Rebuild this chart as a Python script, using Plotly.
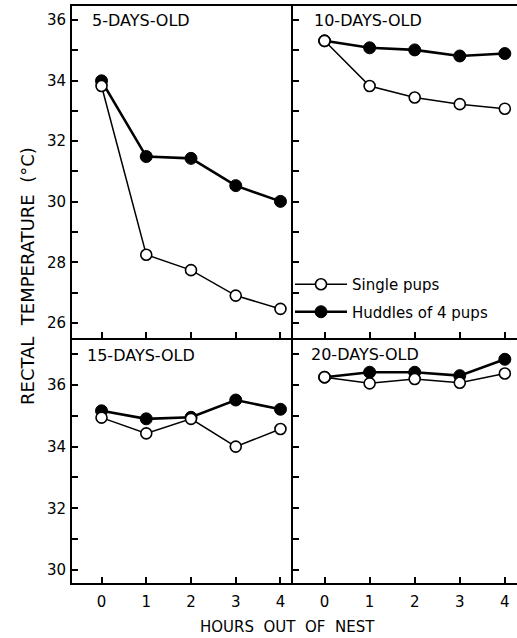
import plotly.graph_objects as go

hours = [0, 1, 2, 3, 4]
panel_titles = ["5-DAYS-OLD", "10-DAYS-OLD", "15-DAYS-OLD", "20-DAYS-OLD"]

single_5 = [33.82, 28.25, 27.74, 26.9, 26.46]
huddle_5 = [33.99, 31.49, 31.43, 30.53, 30.01]
single_10 = [35.31, 33.82, 33.44, 33.22, 33.07]
huddle_10 = [35.31, 35.08, 35.01, 34.81, 34.89]
single_15 = [34.94, 34.43, 34.9, 34.0, 34.57]
huddle_15 = [35.16, 34.9, 34.95, 35.51, 35.21]
single_20 = [36.25, 36.05, 36.19, 36.07, 36.37]
huddle_20 = [36.25, 36.41, 36.41, 36.3, 36.83]

singles = [single_5, single_10, single_15, single_20]
huddles = [huddle_5, huddle_10, huddle_15, huddle_20]

FONT = "DejaVu Sans"
W, H = 517, 638
ML, MR, MT, MB = 72, 0, 6, 55
pw = W - ML - MR
ph = H - MT - MB
xsplit = (293 - ML) / pw
ysplit = (583 - 338) / ph

fig = go.Figure()

for i in range(4):
    ax = "" if i == 0 else str(i + 1)
    fig.add_trace(go.Scatter(
        x=hours, y=huddles[i], mode="lines+markers",
        name="Huddles of 4 pups", legendgroup="h", legendrank=2,
        showlegend=(i == 0), cliponaxis=False,
        line=dict(color="black", width=2.6),
        marker=dict(symbol="circle", size=12, color="black",
                    line=dict(color="black", width=1)),
        xaxis="x" + ax, yaxis="y" + ax))
    fig.add_trace(go.Scatter(
        x=hours, y=singles[i], mode="lines+markers",
        name="Single pups", legendgroup="s", legendrank=1,
        showlegend=(i == 0), cliponaxis=False,
        line=dict(color="black", width=1.5),
        marker=dict(symbol="circle", size=11, color="white",
                    line=dict(color="black", width=1.6)),
        xaxis="x" + ax, yaxis="y" + ax))

tickfont = dict(family=FONT, size=15, color="black")

def xax(domain, anchor, labels, mirror, rng):
    return dict(domain=domain, anchor=anchor, range=rng,
                tickvals=hours, ticktext=[str(h) for h in hours],
                showticklabels=labels, ticks="inside", ticklen=6,
                tickwidth=1.5, tickcolor="black",
                showline=True, linecolor="black", linewidth=1.8,
                mirror=mirror, showgrid=False, zeroline=False,
                tickfont=tickfont, ticklabelstandoff=4)

def yax(domain, anchor, labels, mirror, rng, t0):
    return dict(domain=domain, anchor=anchor, range=rng,
                tick0=t0, dtick=2, showticklabels=labels,
                ticks="inside", ticklen=6, tickwidth=1.5, tickcolor="black",
                minor=dict(dtick=1, tick0=t0 + 1, ticks="inside", ticklen=6,
                           tickwidth=1.5, tickcolor="black", showgrid=False),
                showline=True, linecolor="black", linewidth=1.8,
                mirror=mirror, showgrid=False, zeroline=False,
                tickfont=tickfont, ticklabelstandoff=1)

top_rng = [25.5, 36.46]
bot_rng = [29.58, 37.52]

fig.update_layout(
    width=W, height=H,
    margin=dict(l=ML, r=MR, t=MT, b=MB),
    paper_bgcolor="white", plot_bgcolor="white",
    font=dict(family=FONT, color="black"),
    xaxis=xax([0, xsplit], "y", False, True, [-0.66, 4.28]),
    yaxis=yax([ysplit, 1], "x", True, False, top_rng, 26),
    xaxis2=xax([xsplit, 1], "y2", False, True, [-0.70, 4.27]),
    yaxis2=yax([ysplit, 1], "x2", False, False, top_rng, 26),
    xaxis3=xax([0, xsplit], "y3", True, False, [-0.66, 4.28]),
    yaxis3=yax([0, ysplit], "x3", True, False, bot_rng, 30),
    xaxis4=xax([xsplit, 1], "y4", True, False, [-0.70, 4.27]),
    yaxis4=yax([0, ysplit], "x4", False, False, bot_rng, 30),
    showlegend=True,
    legend=dict(x=(290 - ML) / pw, y=(H - MB - 268) / ph,
                xanchor="left", yanchor="top",
                bgcolor="rgba(0,0,0,0)", borderwidth=0,
                font=dict(family=FONT, size=15, color="black"),
                itemwidth=52, tracegroupgap=5, traceorder="grouped"),
)

label_pos = [(90, 20), (312, 20), (85, 355), (309, 354)]
for (px, py), t in zip(label_pos, panel_titles):
    fig.add_annotation(text=t, xref="paper", yref="paper",
                       x=(px - ML) / pw, y=(H - MB - py) / ph,
                       xanchor="left", yanchor="middle", showarrow=False,
                       font=dict(family=FONT, size=16, color="black"))

fig.add_annotation(text="HOURS  OUT  OF  NEST", xref="paper", yref="paper",
                   x=(287 - ML) / pw, y=(H - MB - 627) / ph,
                   xanchor="center", yanchor="middle", showarrow=False,
                   font=dict(family=FONT, size=15, color="black"))
fig.add_annotation(text="RECTAL  TEMPERATURE  (°C)", xref="paper", yref="paper",
                   x=(27 - ML) / pw, y=(H - MB - 276) / ph, textangle=-90,
                   xanchor="center", yanchor="middle", showarrow=False,
                   font=dict(family=FONT, size=18, color="black"))

fig.write_html(
    "out.html",
    config={"displayModeBar": False},
    post_script="document.body.style.margin='0';document.body.style.overflow='hidden';",
)
